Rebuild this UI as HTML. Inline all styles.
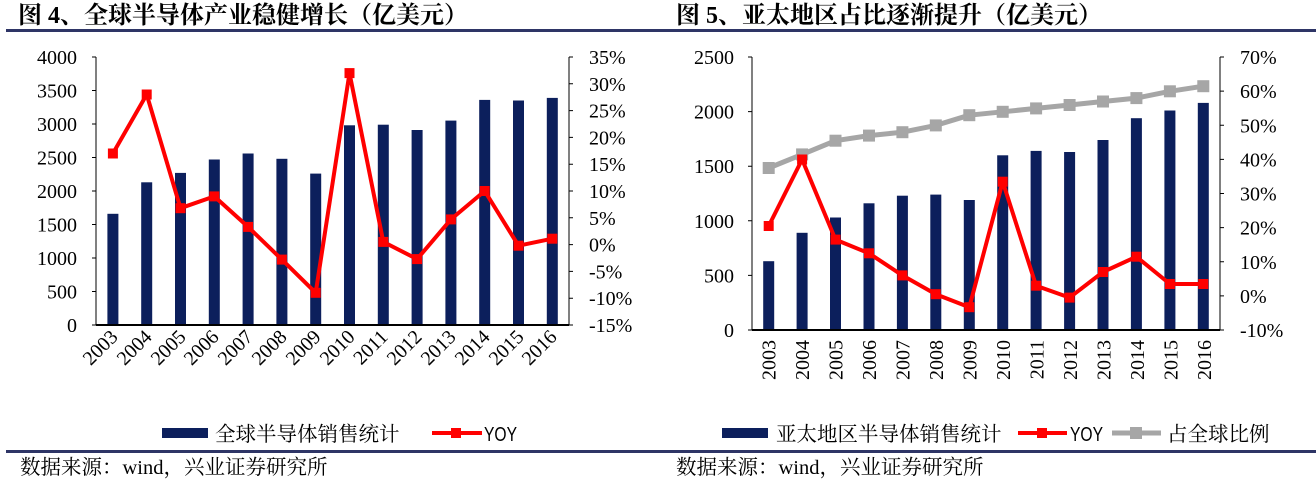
<!DOCTYPE html>
<html><head><meta charset="utf-8"><style>
body{margin:0;background:#fff;}
svg{display:block;}
.t{font-family:"Liberation Serif","Noto Serif CJK SC",serif;font-size:20px;fill:#000;}
.l{font-family:"Liberation Serif","Noto Serif CJK SC",serif;font-size:20.5px;fill:#000;}
.h{font-family:"Liberation Serif","Noto Serif CJK SC",serif;font-size:24px;font-weight:bold;fill:#000;}
.c{font-family:"Liberation Sans","Noto Sans CJK SC",sans-serif;font-size:20px;fill:#000;}
</style></head><body>
<svg width="1316" height="480" xmlns="http://www.w3.org/2000/svg">
<text class="h" x="18" y="23">图 4、全球半导体产业稳健增长（亿美元）</text>
<text class="h" x="676" y="23">图 5、亚太地区占比逐渐提升（亿美元）</text>
<rect x="6" y="29" width="1310" height="3" fill="#2e3566"/>
<rect x="6" y="450" width="1310" height="3" fill="#2e3566"/>
<text class="l" x="20" y="474">数据来源：wind，兴业证券研究所</text>
<text class="l" x="676" y="474">数据来源：wind，兴业证券研究所</text>

<!-- LEFT CHART -->
<g fill="#0c1f5c">
<rect x="107.4" y="213.8" width="11" height="111.2"/>
<rect x="141.2" y="182.3" width="11" height="142.7"/>
<rect x="175" y="172.9" width="11" height="152.1"/>
<rect x="208.8" y="159.5" width="11" height="165.5"/>
<rect x="242.6" y="153.5" width="11" height="171.5"/>
<rect x="276.4" y="158.8" width="11" height="166.2"/>
<rect x="310.2" y="173.6" width="11" height="151.4"/>
<rect x="344" y="125.3" width="11" height="199.7"/>
<rect x="377.8" y="124.7" width="11" height="200.3"/>
<rect x="411.6" y="130" width="11" height="195"/>
<rect x="445.4" y="120.6" width="11" height="204.4"/>
<rect x="479.2" y="99.9" width="11" height="225.1"/>
<rect x="513" y="100.5" width="11" height="224.5"/>
<rect x="546.8" y="97.9" width="11" height="227.1"/>
</g>
<g stroke="#000" stroke-width="1" fill="none">
<line x1="96" y1="57" x2="96" y2="325"/>
<line x1="569" y1="57" x2="569" y2="325"/>
<line x1="96" y1="325" x2="569" y2="325" stroke-width="2"/>
<path d="M92 57H96M92 90.5H96M92 124H96M92 157.5H96M92 191H96M92 224.5H96M92 258H96M92 291.5H96M92 325H96"/>
<path d="M569 57H573M569 83.8H573M569 110.6H573M569 137.4H573M569 164.2H573M569 191H573M569 217.8H573M569 244.6H573M569 271.4H573M569 298.2H573M569 325H573"/>
</g>
<g class="t" text-anchor="end">
<text x="77" y="64">4000</text><text x="77" y="97.5">3500</text><text x="77" y="131">3000</text><text x="77" y="164.5">2500</text><text x="77" y="198">2000</text><text x="77" y="231.5">1500</text><text x="77" y="265">1000</text><text x="77" y="298.5">500</text><text x="77" y="332">0</text>
</g>
<g class="t">
<text x="589" y="64">35%</text><text x="589" y="90.8">30%</text><text x="589" y="117.6">25%</text><text x="589" y="144.4">20%</text><text x="589" y="171.2">15%</text><text x="589" y="198">10%</text><text x="589" y="224.8">5%</text><text x="589" y="251.6">0%</text><text x="589" y="278.4">-5%</text><text x="589" y="305.2">-10%</text><text x="589" y="332">-15%</text>
</g>
<g class="t" text-anchor="end">
<text transform="translate(119,338) rotate(-45)">2003</text>
<text transform="translate(153,338) rotate(-45)">2004</text>
<text transform="translate(187,338) rotate(-45)">2005</text>
<text transform="translate(220,338) rotate(-45)">2006</text>
<text transform="translate(254,338) rotate(-45)">2007</text>
<text transform="translate(288,338) rotate(-45)">2008</text>
<text transform="translate(322,338) rotate(-45)">2009</text>
<text transform="translate(356,338) rotate(-45)">2010</text>
<text transform="translate(389,338) rotate(-45)">2011</text>
<text transform="translate(423,338) rotate(-45)">2012</text>
<text transform="translate(457,338) rotate(-45)">2013</text>
<text transform="translate(491,338) rotate(-45)">2014</text>
<text transform="translate(525,338) rotate(-45)">2015</text>
<text transform="translate(558,338) rotate(-45)">2016</text>
</g>
<polyline fill="none" stroke="#ff0000" stroke-width="4" stroke-linejoin="round" points="112.9,153.5 146.7,94.5 180.5,208.2 214.3,196.4 248.1,226.9 281.9,259.6 315.7,292.8 349.5,73.1 383.3,241.9 417.1,259.1 450.9,219.4 484.7,191 518.5,245.7 552.3,238.7"/>
<g fill="#ff0000">
<rect x="107.9" y="148.5" width="10" height="10"/><rect x="141.7" y="89.5" width="10" height="10"/><rect x="175.5" y="203.2" width="10" height="10"/><rect x="209.3" y="191.4" width="10" height="10"/><rect x="243.1" y="221.9" width="10" height="10"/><rect x="276.9" y="254.6" width="10" height="10"/><rect x="310.7" y="287.8" width="10" height="10"/><rect x="344.5" y="68.1" width="10" height="10"/><rect x="378.3" y="236.9" width="10" height="10"/><rect x="412.1" y="254.1" width="10" height="10"/><rect x="445.9" y="214.4" width="10" height="10"/><rect x="479.7" y="186" width="10" height="10"/><rect x="513.5" y="240.7" width="10" height="10"/><rect x="547.3" y="233.7" width="10" height="10"/>
</g>
<rect x="162" y="428" width="46" height="10" fill="#0c1f5c"/>
<text class="l" x="215" y="441">全球半导体销售统计</text>
<line x1="432" y1="433" x2="482" y2="433" stroke="#ff0000" stroke-width="4"/>
<rect x="451" y="428" width="10" height="10" fill="#ff0000"/>
<text class="c" x="484" y="441" textLength="33" lengthAdjust="spacingAndGlyphs">YOY</text>

<!-- RIGHT CHART -->
<g fill="#0c1f5c">
<rect x="763.2" y="261.2" width="11" height="68.8"/>
<rect x="796.6" y="232.8" width="11" height="97.2"/>
<rect x="830" y="217.5" width="11" height="112.5"/>
<rect x="863.5" y="203.3" width="11" height="126.7"/>
<rect x="896.9" y="195.7" width="11" height="134.3"/>
<rect x="930.3" y="194.6" width="11" height="135.4"/>
<rect x="963.8" y="200" width="11" height="130"/>
<rect x="997.2" y="155.3" width="11" height="174.7"/>
<rect x="1030.6" y="150.9" width="11" height="179.1"/>
<rect x="1064.1" y="152" width="11" height="178"/>
<rect x="1097.5" y="140" width="11" height="190"/>
<rect x="1130.9" y="118.2" width="11" height="211.8"/>
<rect x="1164.4" y="110.5" width="11" height="219.5"/>
<rect x="1197.8" y="102.9" width="11" height="227.1"/>
</g>
<g stroke="#000" stroke-width="1" fill="none">
<line x1="752" y1="57" x2="752" y2="330"/>
<line x1="1220" y1="57" x2="1220" y2="330"/>
<line x1="752" y1="330" x2="1220" y2="330" stroke-width="2"/>
<path d="M748 57H752M748 111.6H752M748 166.2H752M748 220.8H752M748 275.4H752M748 330H752"/>
<path d="M1220 57H1224M1220 91.1H1224M1220 125.3H1224M1220 159.4H1224M1220 193.5H1224M1220 227.6H1224M1220 261.8H1224M1220 295.9H1224M1220 330H1224"/>
</g>
<g class="t" text-anchor="end">
<text x="734" y="64">2500</text><text x="734" y="118.6">2000</text><text x="734" y="173.2">1500</text><text x="734" y="227.8">1000</text><text x="734" y="282.4">500</text><text x="734" y="337">0</text>
</g>
<g class="t">
<text x="1240" y="64">70%</text><text x="1240" y="98.1">60%</text><text x="1240" y="132.3">50%</text><text x="1240" y="166.4">40%</text><text x="1240" y="200.5">30%</text><text x="1240" y="234.6">20%</text><text x="1240" y="268.8">10%</text><text x="1240" y="302.9">0%</text><text x="1240" y="337">-10%</text>
</g>
<g class="t" text-anchor="end">
<text transform="translate(775.5,340) rotate(-90)">2003</text>
<text transform="translate(809,340) rotate(-90)">2004</text>
<text transform="translate(842.5,340) rotate(-90)">2005</text>
<text transform="translate(876,340) rotate(-90)">2006</text>
<text transform="translate(909.5,340) rotate(-90)">2007</text>
<text transform="translate(943,340) rotate(-90)">2008</text>
<text transform="translate(976.5,340) rotate(-90)">2009</text>
<text transform="translate(1010,340) rotate(-90)">2010</text>
<text transform="translate(1043.5,340) rotate(-90)">2011</text>
<text transform="translate(1077,340) rotate(-90)">2012</text>
<text transform="translate(1110.5,340) rotate(-90)">2013</text>
<text transform="translate(1144,340) rotate(-90)">2014</text>
<text transform="translate(1177.5,340) rotate(-90)">2015</text>
<text transform="translate(1211,340) rotate(-90)">2016</text>
</g>
<polyline fill="none" stroke="#a6a6a6" stroke-width="5" stroke-linejoin="round" points="768.7,168 802.1,154.4 835.5,140.7 869,135.6 902.4,132.2 935.8,125.4 969.3,115.2 1002.7,111.8 1036.1,108.4 1069.6,105 1103,101.5 1136.4,98.1 1169.9,91.3 1203.3,86.2"/>
<g fill="#a6a6a6">
<rect x="762.7" y="162" width="12" height="12"/><rect x="796.1" y="148.4" width="12" height="12"/><rect x="829.5" y="134.7" width="12" height="12"/><rect x="863" y="129.6" width="12" height="12"/><rect x="896.4" y="126.2" width="12" height="12"/><rect x="929.8" y="119.4" width="12" height="12"/><rect x="963.3" y="109.2" width="12" height="12"/><rect x="996.7" y="105.8" width="12" height="12"/><rect x="1030.1" y="102.4" width="12" height="12"/><rect x="1063.6" y="99" width="12" height="12"/><rect x="1097" y="95.5" width="12" height="12"/><rect x="1130.4" y="92.1" width="12" height="12"/><rect x="1163.9" y="85.3" width="12" height="12"/><rect x="1197.3" y="80.2" width="12" height="12"/>
</g>
<polyline fill="none" stroke="#ff0000" stroke-width="4" stroke-linejoin="round" points="768.7,226 802.1,159.5 835.5,239.6 869,253.3 902.4,275.4 935.8,294.2 969.3,307.2 1002.7,181.7 1036.1,285.7 1069.6,297.6 1103,272 1136.4,256.7 1169.9,284 1203.3,284"/>
<g fill="#ff0000">
<rect x="763.7" y="221" width="10" height="10"/><rect x="797.1" y="154.5" width="10" height="10"/><rect x="830.5" y="234.6" width="10" height="10"/><rect x="864" y="248.3" width="10" height="10"/><rect x="897.4" y="270.4" width="10" height="10"/><rect x="930.8" y="289.2" width="10" height="10"/><rect x="964.3" y="302.2" width="10" height="10"/><rect x="997.7" y="176.7" width="10" height="10"/><rect x="1031.1" y="280.7" width="10" height="10"/><rect x="1064.6" y="292.6" width="10" height="10"/><rect x="1098" y="267" width="10" height="10"/><rect x="1131.4" y="251.7" width="10" height="10"/><rect x="1164.9" y="279" width="10" height="10"/><rect x="1198.3" y="279" width="10" height="10"/>
</g>
<rect x="722" y="428" width="46" height="10" fill="#0c1f5c"/>
<text class="l" x="776" y="441">亚太地区半导体销售统计</text>
<line x1="1018" y1="433" x2="1067" y2="433" stroke="#ff0000" stroke-width="4"/>
<rect x="1037" y="428" width="10" height="10" fill="#ff0000"/>
<text class="c" x="1070" y="441" textLength="33" lengthAdjust="spacingAndGlyphs">YOY</text>
<line x1="1112" y1="433" x2="1161" y2="433" stroke="#a6a6a6" stroke-width="5"/>
<rect x="1130" y="427" width="12" height="12" fill="#a6a6a6"/>
<text class="l" x="1167" y="441">占全球比例</text>
</svg>
</body></html>
